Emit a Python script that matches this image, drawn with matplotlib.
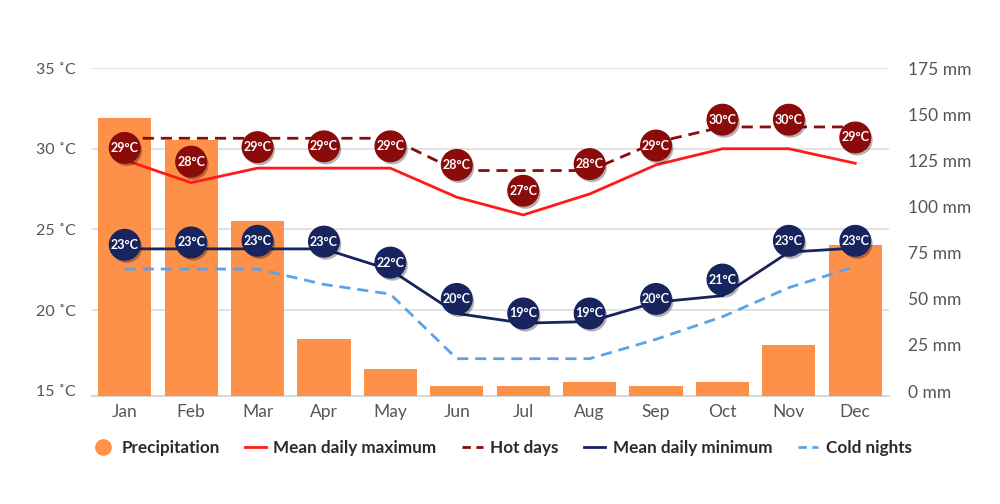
import numpy as np
import matplotlib
matplotlib.use("Agg")
import matplotlib.pyplot as plt
import matplotlib.patheffects as pe
from matplotlib.lines import Line2D

plt.rcParams['font.family'] = ['Lato', 'DejaVu Sans']

# data
months = ['Jan', 'Feb', 'Mar', 'Apr', 'May', 'Jun', 'Jul', 'Aug', 'Sep', 'Oct', 'Nov', 'Dec']
precip = [148, 136, 92, 28, 12, 2.5, 2.5, 5, 2.5, 5, 25, 79]
mean_max = [29.3, 27.9, 28.8, 28.8, 28.8, 27.0, 25.9, 27.2, 29.0, 30.0, 30.0, 29.1]
hot_days = [30.65, 30.65, 30.65, 30.65, 30.65, 28.65, 28.65, 28.65, 30.4, 31.35, 31.35, 31.35]
mean_min = [23.8, 23.8, 23.8, 23.8, 22.5, 19.8, 19.2, 19.3, 20.5, 20.9, 23.6, 23.85]
cold_nights = [22.55, 22.55, 22.55, 21.6, 21.0, 17.0, 17.0, 17.0, 18.2, 19.6, 21.4, 22.7]

# bubble labels and where they sit
max_labels = [29, 28, 29, 29, 29, 28, 27, 28, 29, 30, 30, 29]
max_bubble = [30.05, 29.2, 30.1, 30.15, 30.15, 29.0, 27.4, 29.05, 30.2, 31.8, 31.8, 30.7]
min_labels = [23, 23, 23, 23, 22, 20, 19, 19, 20, 21, 23, 23]
min_bubble = [24.05, 24.2, 24.3, 24.25, 22.95, 20.7, 19.8, 19.8, 20.7, 21.9, 24.3, 24.3]

temp_ticks = [15, 20, 25, 30, 35]
mm_ticks = [0, 25, 50, 75, 100, 125, 150, 175]

c_bar = '#fd9149'
c_max = '#ff1a1a'
c_hot = '#8b0a0a'
c_min = '#17245e'
c_cold = '#5aa3ec'
c_tick = '#555555'
c_grid = '#dddddd'

x = np.arange(len(months))

fig = plt.figure(figsize=(10, 5.04), dpi=100)
rect = [0.0915, 108 / 504, 0.797, 328 / 504]
ax = fig.add_axes(rect)          # temperature axis + grid
ax_p = ax.twinx()                # precipitation bars
ax_l = ax.twinx()                # lines and bubbles on top

ax.set_xlim(-0.5, 11.5)
ax.set_ylim(14.69, 35)
ax_p.set_ylim(-2.7, 175)
ax_l.set_ylim(ax.get_ylim())

# grid
ax.set_yticks(temp_ticks)
ax.set_yticklabels([f'{t} ˚C' for t in temp_ticks])
ax.yaxis.grid(True, color=c_grid, linewidth=1.2)
ax.set_axisbelow(True)
ax.get_ygridlines()[0].set_visible(False)
ax.tick_params(axis='y', length=0, pad=11, labelsize=11.5, labelcolor=c_tick)
ax.set_xticks(x)
ax.set_xticklabels(months)
ax.tick_params(axis='x', length=0, pad=6, labelsize=12.5, labelcolor=c_tick)
for s in ['top', 'right', 'left']:
    ax.spines[s].set_visible(False)
ax.spines['bottom'].set_color('#d8d8d8')
ax.spines['bottom'].set_linewidth(1.5)

# bars
lo = ax_p.get_ylim()[0]
ax_p.bar(x, np.array(precip) - lo, bottom=lo, width=0.8, color=c_bar, zorder=2)
ax_p.set_yticks(mm_ticks)
ax_p.set_yticklabels([f'{m} mm' for m in mm_ticks])
ax_p.tick_params(axis='y', length=0, pad=14, labelsize=12.5, labelcolor=c_tick)
for s in ax_p.spines.values():
    s.set_visible(False)

# lines
ax_l.plot(x, cold_nights, color=c_cold, lw=2, ls=(0, (4, 2.5)))
ax_l.plot(x, mean_min, color=c_min, lw=2)
ax_l.plot(x, mean_max, color=c_max, lw=2)
ax_l.plot(x, hot_days, color=c_hot, lw=2, ls=(0, (4, 2.5)))

shadow = [pe.SimplePatchShadow(offset=(1.5, -2), shadow_rgbFace='k', alpha=0.3), pe.Normal()]
for vals, labs, col in [(max_bubble, max_labels, c_hot), (min_bubble, min_labels, c_min)]:
    ax_l.plot(x, vals, ls='none', marker='o', markersize=22, markerfacecolor=col,
              markeredgecolor=col, path_effects=shadow, zorder=5)
    for xi, yi, lab in zip(x, vals, labs):
        ax_l.text(xi, yi, f'{lab}°C', ha='center', va='center', color='white',
                  fontsize=9, fontweight='bold', zorder=6)

ax_l.set_yticks([])
for s in ax_l.spines.values():
    s.set_visible(False)

# legend
handles = [
    Line2D([], [], ls='none', marker='o', markersize=11, color=c_bar),
    Line2D([], [], color=c_max, lw=2),
    Line2D([], [], color=c_hot, lw=2, ls=(0, (3, 2))),
    Line2D([], [], color=c_min, lw=2),
    Line2D([], [], color=c_cold, lw=2, ls=(0, (3, 2))),
]
names = ['Precipitation', 'Mean daily maximum', 'Hot days', 'Mean daily minimum', 'Cold nights']
leg = fig.legend(handles, names, loc='center', bbox_to_anchor=(0.5025, 0.111), ncol=5,
                 frameon=False, handlelength=1.2, handletextpad=0.45, columnspacing=1.5,
                 prop={'size': 12.3, 'weight': 'bold'})
for t in leg.get_texts():
    t.set_color('#2b2b2b')

fig.savefig('out.png', dpi=100)
